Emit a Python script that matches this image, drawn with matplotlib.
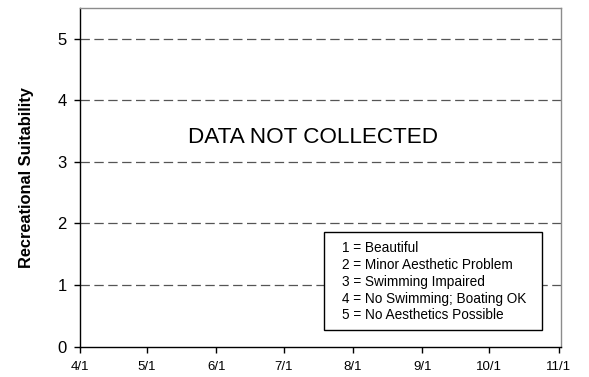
import matplotlib
matplotlib.use("Agg")
import matplotlib.pyplot as plt
import matplotlib.dates as mdates
from datetime import date, timedelta

plt.rcParams['font.family'] = ['Liberation Sans', 'DejaVu Sans']

tick_dates = [date(2007, m, 1) for m in range(4, 12)]
tick_labels = ["4/1", "5/1", "6/1", "7/1", "8/1", "9/1", "10/1", "11/1"]
y_ticks = [0, 1, 2, 3, 4, 5]
legend_lines = ["1 = Beautiful", "2 = Minor Aesthetic Problem", "3 = Swimming Impaired",
                "4 = No Swimming; Boating OK", "5 = No Aesthetics Possible"]
message = "DATA NOT COLLECTED"
y_label = "Recreational Suitability"

W, H = 589, 377
fig = plt.figure(figsize=(W / 100, H / 100), dpi=100)
ax = fig.add_axes([80 / W, 1 - 346.6 / H, (561 - 80) / W, (346.6 - 8) / H])

ax.set_xlim(mdates.date2num(tick_dates[0]), mdates.date2num(tick_dates[-1] + timedelta(days=1)))
ax.set_ylim(0, 5.5)
ax.set_xticks(mdates.date2num(tick_dates))
ax.set_xticklabels(tick_labels, fontsize=9.5)
ax.set_yticks(y_ticks)
ax.set_yticklabels([str(v) for v in y_ticks], fontsize=12)
ax.tick_params(axis='both', direction='out', length=4.5, width=1, color='black')
ax.tick_params(axis='y', pad=5)
ax.tick_params(axis='x', pad=6)

for v in y_ticks[1:]:
    ax.axhline(v, color='#555555', lw=0.9, dashes=(7.5, 3.6), zorder=1)

for s in ['left', 'bottom']:
    ax.spines[s].set_color('black')
    ax.spines[s].set_linewidth(1.0)
for s in ['top', 'right']:
    ax.spines[s].set_color('#8c8c8c')
    ax.spines[s].set_linewidth(1.0)

ax.set_ylabel(y_label, fontsize=11.8, fontweight='bold', labelpad=17)

# message text
fig.text(313 / W, 1 - 137.5 / H, message, fontsize=16.2, ha='center', va='center')

# legend box
bx0, bx1, by0, by1 = 324, 542, 232, 330
rect = plt.Rectangle((bx0 / W, 1 - by1 / H), (bx1 - bx0) / W, (by1 - by0) / H,
                     transform=fig.transFigure, facecolor='white', edgecolor='black',
                     lw=1.0, zorder=5)
fig.patches.append(rect)
ys = [248, 265, 282, 299, 315]
for t, yy in zip(legend_lines, ys):
    fig.text(342 / W, 1 - yy / H, t, fontsize=9.8, ha='left', va='center', zorder=6)

fig.savefig("out.png", dpi=100)
